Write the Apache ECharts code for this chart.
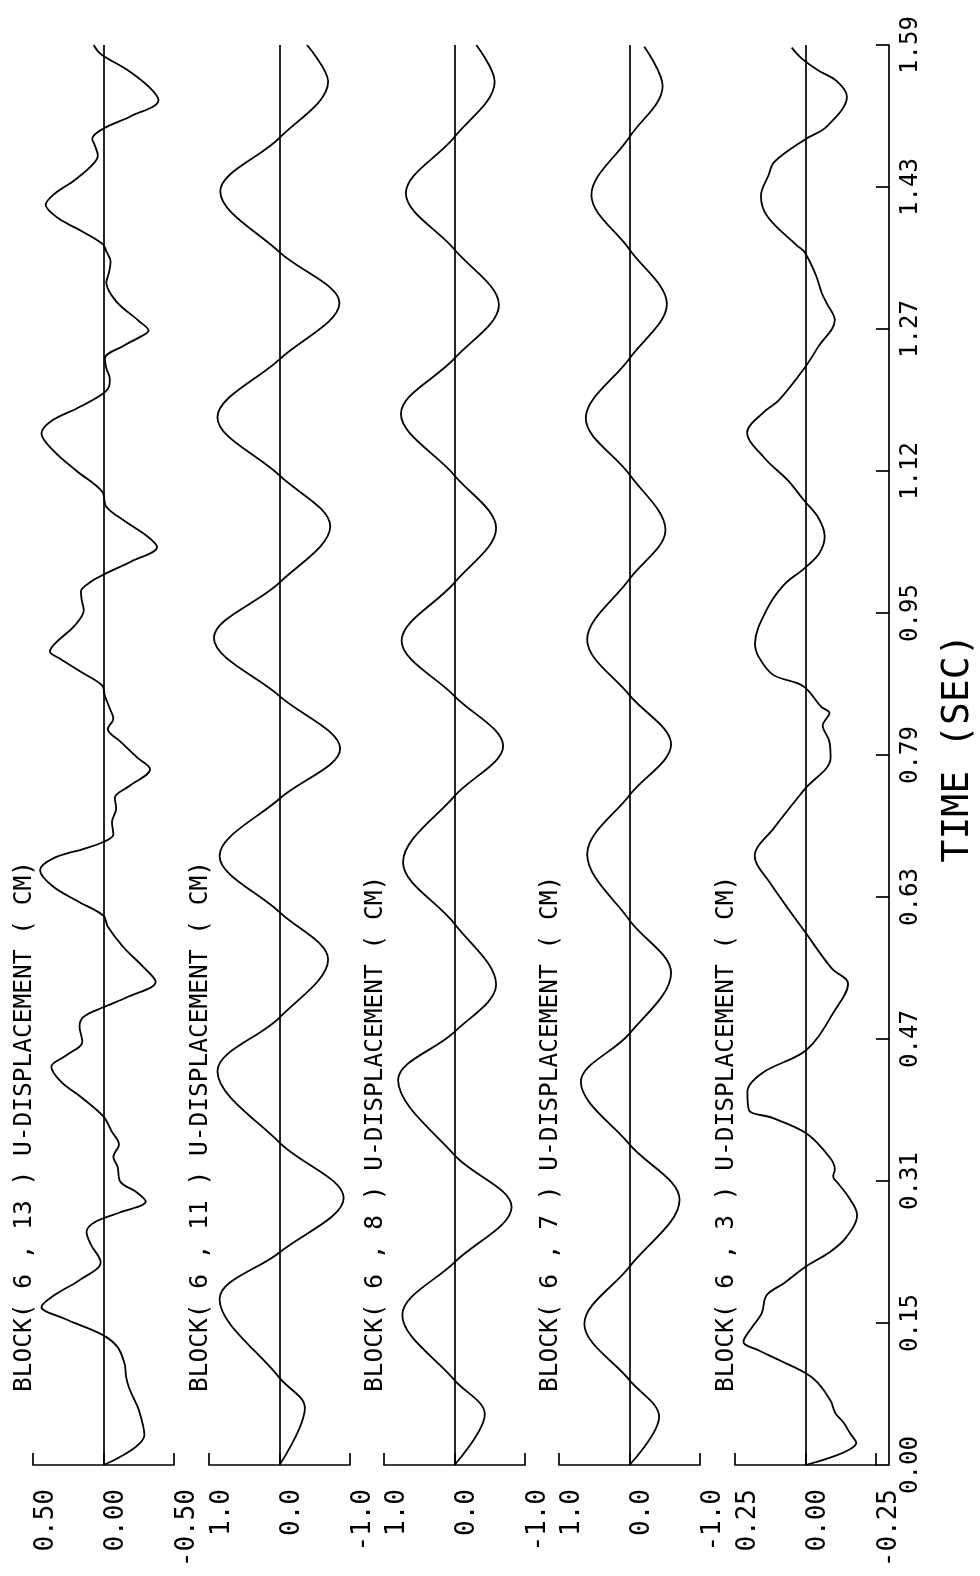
<!DOCTYPE html>
<html><head><meta charset="utf-8">
<script src="https://cdn.jsdelivr.net/npm/echarts@6/dist/echarts.min.js"></script>
<style>html,body{margin:0;padding:0;background:#fff}#c{width:980px;height:1576px}</style>
</head><body><div id="c"></div>
<script>
// Time axis tick labels (seconds)
const timeTickLabels = ['0.00','0.15','0.31','0.47','0.63','0.79','0.95','1.12','1.27','1.43','1.59'];
const panelTitles = [
  'BLOCK( 6 , 13 ) U-DISPLACEMENT ( CM)',
  'BLOCK( 6 , 11 ) U-DISPLACEMENT ( CM)',
  'BLOCK( 6 , 8 ) U-DISPLACEMENT ( CM)',
  'BLOCK( 6 , 7 ) U-DISPLACEMENT ( CM)',
  'BLOCK( 6 , 3 ) U-DISPLACEMENT ( CM)'
];
const valueRanges = [0.5, 1, 1, 1, 0.25];
const valueTickLabels = [
  ['-0.50','0.00','0.50'],
  ['-1.0','0.0','1.0'],
  ['-1.0','0.0','1.0'],
  ['-1.0','0.0','1.0'],
  ['-0.25','0.00','0.25']
];
// [time (s), displacement (cm)]
const block13 = [[0,0],[.034,-.29],[.062,-.25],[.076,-.21],[.087,-.18],[.099,-.16],[.113,-.15],[.132,-.10],[.146,.01],[.164,.28],[.177,.44],[.190,.35],[.207,.17],[.227,.02],[.247,.09],[.261,.12],[.272,.06],[.283,-.12],[.295,-.30],[.306,-.23],[.317,-.12],[.334,-.10],[.345,-.07],[.359,-.11],[.373,-.06],[.390,0],[.412,.16],[.429,.30],[.446,.37],[.459,.26],[.474,.15],[.491,.17],[.502,.14],[.512,.01],[.524,-.17],[.541,-.37],[.558,-.28],[.580,-.14],[.603,-.03],[.615,0],[.631,.18],[.648,.36],[.666,.45],[.679,.36],[.690,.14],[.697,.01],[.706,-.07],[.720,-.06],[.735,-.09],[.747,-.08],[.760,-.18],[.779,-.33],[.792,-.24],[.810,-.12],[.824,-.03],[.836,-.07],[.845,-.05],[.861,-.01],[.873,.01],[.889,.17],[.903,.31],[.911,.38],[.922,.33],[.939,.21],[.957,.14],[.969,.155],[.978,.16],[.989,.09],[.997,0],[1.012,-.20],[1.028,-.38],[1.040,-.31],[1.057,-.15],[1.073,-.02],[1.090,.01],[1.113,.19],[1.135,.35],[1.155,.44],[1.169,.37],[1.183,.19],[1.199,.01],[1.208,-.04],[1.216,-.045],[1.228,-.02],[1.239,-.01],[1.253,-.14],[1.264,-.27],[1.270,-.32],[1.281,-.25],[1.303,-.09],[1.324,-.02],[1.336,-.04],[1.348,-.05],[1.359,-.02],[1.367,.005],[1.382,.16],[1.396,.32],[1.411,.41],[1.423,.35],[1.438,.21],[1.454,.09],[1.466,.04],[1.477,.06],[1.485,.08],[1.496,.005],[1.510,-.19],[1.528,-.39],[1.542,-.33],[1.561,-.18],[1.580,.02],[1.590,.07]];
const block11 = [[0,0],[.064,-.36],[.0975,0],[.186,.85],[.238,0],[.299,-.91],[.361,0],[.441,.88],[.501,0],[.566,-.69],[.619,0],[.682,.85],[.746,0],[.802,-.86],[.861,0],[.926,.93],[.988,0],[1.051,-.72],[1.108,0],[1.173,.88],[1.238,0],[1.301,-.85],[1.358,0],[1.426,.84],[1.486,0],[1.549,-.69],[1.590,-.39]];
const block8 = [[0,0],[.057,-.43],[.095,0],[.168,.74],[.227,0],[.289,-.81],[.347,0],[.431,.80],[.485,0],[.538,-.59],[.606,0],[.675,.73],[.749,0],[.805,-.69],[.861,0],[.923,.75],[.988,0],[1.049,-.59],[1.108,0],[1.177,.76],[1.239,0],[1.299,-.63],[1.361,0],[1.424,.69],[1.487,0],[1.549,-.57],[1.590,-.31]];
const block7 = [[0,0],[.054,-.42],[.095,0],[.158,.64],[.222,0],[.297,-.71],[.359,0],[.429,.69],[.483,0],[.551,-.59],[.610,0],[.684,.60],[.750,0],[.807,-.59],[.862,0],[.924,.60],[.992,0],[1.047,-.51],[1.109,0],[1.172,.62],[1.239,0],[1.300,-.53],[1.361,0],[1.422,.54],[1.487,0],[1.544,-.47],[1.588,-.21]];
const block3 = [[0,0],[.025,-.18],[.036,-.157],[.047,-.136],[.058,-.106],[.072,-.089],[.092,-.044],[.103,0],[.117,.09],[.128,.163],[.138,.22],[.154,.19],[.170,.155],[.190,.138],[.204,.074],[.222,0],[.238,-.084],[.254,-.142],[.280,-.183],[.299,-.155],[.316,-.114],[.323,-.098],[.331,-.104],[.344,-.087],[.371,-.005],[.389,.12],[.397,.20],[.418,.206],[.439,.153],[.465,-.004],[.508,-.102],[.539,-.151],[.556,-.093],[.597,.002],[.651,.124],[.682,.18],[.714,.11],[.756,.005],[.792,-.089],[.811,-.084],[.828,-.061],[.842,-.085],[.849,-.056],[.872,.008],[.885,.116],[.906,.168],[.920,.179],[.958,.137],[.985,.078],[1.004,.004],[1.021,-.049],[1.040,-.068],[1.061,-.045],[1.080,.005],[1.103,.064],[1.127,.144],[1.156,.207],[1.179,.148],[1.192,.095],[1.228,.004],[1.252,-.045],[1.282,-.104],[1.301,-.075],[1.312,-.058],[1.333,-.036],[1.358,.003],[1.366,.032],[1.398,.135],[1.421,.158],[1.445,.13],[1.459,.111],[1.484,.003],[1.499,-.076],[1.532,-.147],[1.549,-.113],[1.562,-.043],[1.575,.014],[1.587,.049]];
const panelData = [block13, block11, block8, block7, block3];

const lefts = [33, 209, 384, 559, 735];
const W = 141, TOP = 45, H = 1420;
const FONT = '"DejaVu Sans Mono", "Liberation Mono", monospace';

const grid = [], xAxis = [], yAxis = [], series = [], graphic = [];
for (let i = 0; i < 5; i++) {
  const r = valueRanges[i];
  grid.push({left: lefts[i], top: TOP, width: W, height: H});
  xAxis.push({
    gridIndex: i, type: 'value', min: -r, max: r, interval: r, inverse: true, position: 'bottom',
    axisLine: {show: true, onZero: false, lineStyle: {color: '#000', width: 1.7}},
    axisTick: {show: true, inside: true, length: 12, lineStyle: {color: '#000', width: 1.7}},
    splitLine: {show: false},
    axisLabel: {
      rotate: 90, margin: 24, color: '#000', fontFamily: FONT, fontSize: 26,
      verticalAlign: 'top',
      formatter: (v) => valueTickLabels[i][Math.round(v / r) + 1]
    }
  });
  if (i < 4) {
    yAxis.push({gridIndex: i, type: 'value', min: 0, max: 1.59, show: false});
  } else {
    yAxis.push({
      gridIndex: i, type: 'value', min: 0, max: 1.59, interval: 0.159, position: 'right', offset: 13,
      axisLine: {show: true, onZero: false, lineStyle: {color: '#000', width: 1.7}},
      axisTick: {show: true, inside: true, length: 13, lineStyle: {color: '#000', width: 1.7}},
      splitLine: {show: false},
      axisLabel: {
        rotate: 90, margin: 10, color: '#000', fontFamily: FONT, fontSize: 24,
        formatter: (v) => timeTickLabels[Math.round(v / 0.159)]
      }
    });
  }
  series.push({
    type: 'line', xAxisIndex: i, yAxisIndex: i, data: panelData[i],
    encode: {x: 1, y: 0},
    showSymbol: false, smooth: 0.35, clip: false,
    lineStyle: {color: '#000', width: 1.8},
    markLine: {
      silent: true, symbol: 'none', label: {show: false},
      lineStyle: {color: '#000', type: 'solid', width: 1.7},
      data: [{xAxis: 0}]
    }
  });
  graphic.push({
    type: 'text', x: lefts[i] - 8, y: 1392, rotation: Math.PI / 2,
    style: {text: panelTitles[i], fontFamily: FONT, fontSize: 24.5, fill: '#000',
            align: 'left', verticalAlign: 'middle'}
  });
}
graphic.push({
  type: 'text', x: 958, y: 748, rotation: Math.PI / 2,
  style: {text: 'TIME (SEC)', fontFamily: FONT, fontSize: 38, fill: '#000',
          align: 'center', verticalAlign: 'middle'}
});

const chart = echarts.init(document.getElementById('c'), null, {renderer: 'canvas'});
chart.setOption({
  backgroundColor: '#fff', animation: false,
  grid, xAxis, yAxis, series, graphic
});
</script></body></html>
